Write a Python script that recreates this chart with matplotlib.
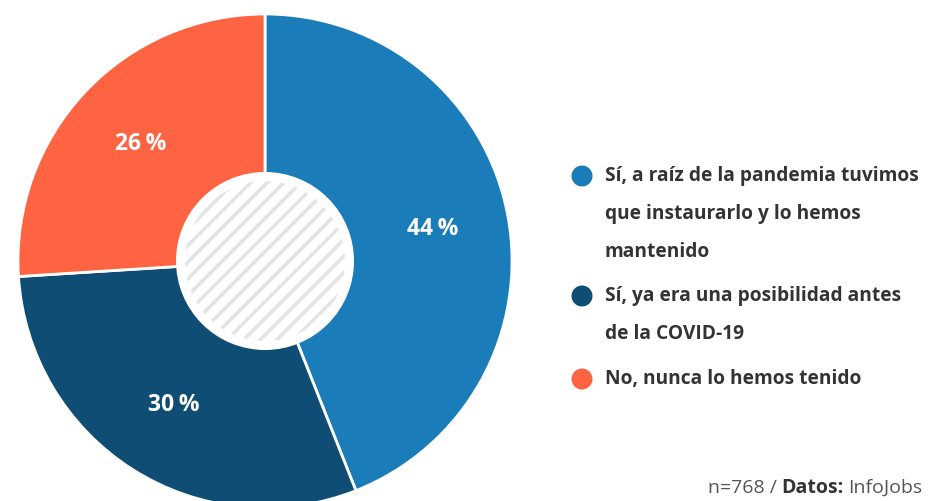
import matplotlib
matplotlib.use("Agg")
import matplotlib.pyplot as plt
from matplotlib.patches import Circle, Ellipse

labels = ["Sí, a raíz de la pandemia tuvimos\nque instaurarlo y lo hemos\nmantenido",
          "Sí, ya era una posibilidad antes\nde la COVID-19",
          "No, nunca lo hemos tenido"]
values = [44, 30, 26]
colors = ["#1a7db9", "#0f4d75", "#ff6442"]

FONT = 'Open Sans'
plt.rcParams['hatch.linewidth'] = 2.6
plt.rcParams['hatch.color'] = '#e4e4e4'

W, H = 929, 501
fig = plt.figure(figsize=(W/100, H/100), dpi=100)
fig.patch.set_facecolor("white")

cx, cy, R = 265, 261, 247
ax = fig.add_axes([(cx-R)/W, (H-cy-R)/H, 2*R/W, 2*R/H])

wedges, texts, autotexts = ax.pie(values, colors=colors, startangle=90, counterclock=False,
       radius=1, autopct=lambda p: f"{p:.0f}\u2009%", pctdistance=0.69,
       wedgeprops=dict(edgecolor='white', linewidth=2))
ax.set_xlim(-1, 1); ax.set_ylim(-1, 1)
ax.axis('off')
for w in wedges:
    w.set_clip_on(False)
for t in autotexts:
    t.set_color('white'); t.set_fontsize(16.5); t.set_fontweight('bold'); t.set_family(FONT)

ax.add_patch(Circle((0, 0), 89/R, facecolor='white', edgecolor='none', zorder=3))
ax.add_patch(Circle((0, 0), 80/R, facecolor='white', edgecolor='#e4e4e4', hatch='//', linewidth=0, zorder=4))

# legend
leg_y = [176, 296, 379]
line_h = 38
for lab, col, y in zip(labels, colors, leg_y):
    fig.add_artist(Ellipse((582/W, 1 - y/H), 21/W, 21/H, transform=fig.transFigure, facecolor=col,
                           edgecolor='none'))
    for i, line in enumerate(lab.split("\n")):
        fig.text(605/W, 1 - (y + i*line_h)/H, line, ha='left', va='center', fontsize=13.8,
                 fontweight='bold', color='#333333', family=FONT)

# footer: right-aligned pieces on a common baseline
renderer = fig.canvas.get_renderer()
parts = [("InfoJobs", 'normal', '#555555'), ("Datos:", 'bold', '#333333'), ("n=768 /", 'normal', '#555555')]
gaps = [0, 4, 5]
x_right = 922
base_y = 1 - 493/H
for (s, wgt, col), g in zip(parts, gaps):
    x_right -= g
    t = fig.text(x_right/W, base_y, s, ha='right', va='baseline', fontsize=14,
                 fontweight=wgt, color=col, family=FONT)
    bb = t.get_window_extent(renderer)
    x_right -= bb.width

fig.savefig("out.png", dpi=100, facecolor='white')
